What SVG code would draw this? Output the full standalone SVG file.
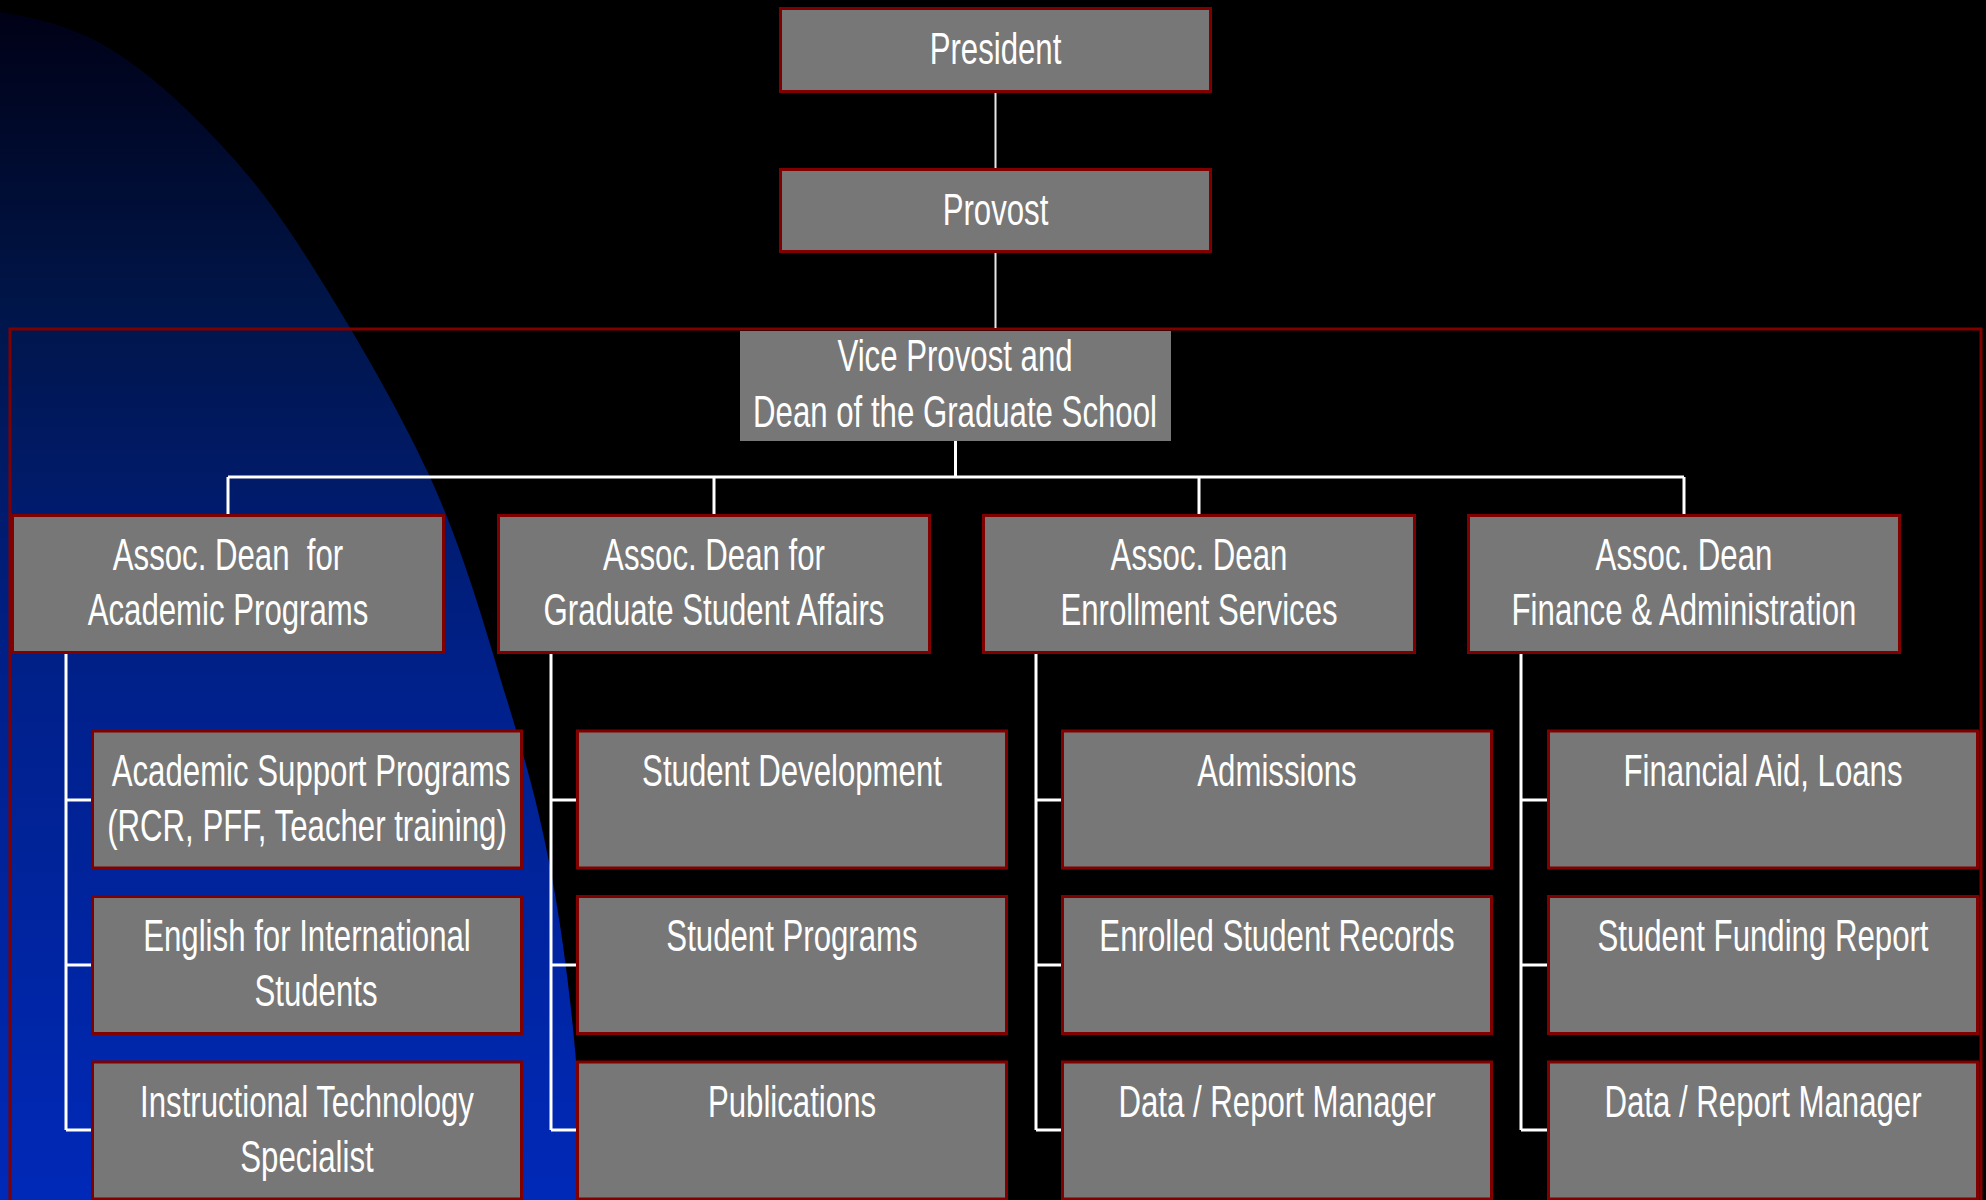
<svg xmlns="http://www.w3.org/2000/svg" width="1986" height="1200" viewBox="0 0 1986 1200">
  <defs>
    <linearGradient id="bg" gradientUnits="userSpaceOnUse" x1="0" y1="0" x2="0" y2="1200">
      <stop offset="0" stop-color="#000014"/>
      <stop offset="0.25" stop-color="#001548"/>
      <stop offset="0.55" stop-color="#002088"/>
      <stop offset="1" stop-color="#0029b8"/>
    </linearGradient>
    <style>
      .box { fill: #777777; stroke: #800000; stroke-width: 3; }
      .vp { fill: #777777; }
      .frame { fill: none; stroke: #800000; stroke-width: 3; }
      .t { font-family: "Liberation Sans", Arial, sans-serif; font-size: 45px; fill: #ffffff; text-anchor: middle; }
      .ln { stroke: #ffffff; stroke-width: 3; fill: none; }
      .thin { stroke: #e8e8e8; stroke-width: 2; fill: none; }
    </style>
  </defs>

  <rect x="0" y="0" width="1986" height="1200" fill="#000000"/>
  <path d="M0,12 C33,18 66.7,24.5 100,43 C133.3,61.5 166.7,89 200,123 C233.3,157 261.7,188 300,247 C338.3,306 395.5,401.5 430,477 C464.5,552.5 486.8,634.2 507,700 C527.2,765.8 539.5,811.8 551,872 C562.5,932.2 571.5,1006.3 576,1061 C578,1110 578,1160 578,1200 L0,1200 Z" fill="url(#bg)"/>

  <rect id="frame" class="frame" x="10" y="329" width="1971" height="1000"/>

  <g id="connectors">
    <line class="thin" x1="995.5" y1="93" x2="995.5" y2="168"/>
    <line class="thin" x1="995.5" y1="253" x2="995.5" y2="328"/>
    <line class="ln" x1="955.5" y1="441" x2="955.5" y2="477"/>
    <line class="ln" x1="228" y1="477" x2="1684" y2="477"/>
    <line class="ln" x1="228" y1="477" x2="228" y2="515"/>
    <line class="ln" x1="714" y1="477" x2="714" y2="515"/>
    <line class="ln" x1="1199" y1="477" x2="1199" y2="515"/>
    <line class="ln" x1="1684" y1="477" x2="1684" y2="515"/>
    <path class="ln" d="M66,654 V1130 M66,800 H92 M66,965 H92 M66,1130 H92"/>
    <path class="ln" d="M551,654 V1130 M551,800 H577 M551,965 H577 M551,1130 H577"/>
    <path class="ln" d="M1036,654 V1130 M1036,800 H1062 M1036,965 H1062 M1036,1130 H1062"/>
    <path class="ln" d="M1521,654 V1130 M1521,800 H1548 M1521,965 H1548 M1521,1130 H1548"/>
  </g>

  <g id="president">
    <rect class="box" x="780.5" y="8.5" width="430" height="83"/>
    <text class="t" transform="translate(995.5,64) scale(0.693,1)">President</text>
  </g>
  <g id="provost">
    <rect class="box" x="780.5" y="169.5" width="430" height="82"/>
    <text class="t" transform="translate(995.5,225) scale(0.693,1)">Provost</text>
  </g>
  <g id="vice-provost">
    <rect class="vp" x="740" y="331" width="431" height="110"/>
    <text class="t" transform="translate(955,371) scale(0.693,1)">Vice Provost and</text>
    <text class="t" transform="translate(955,427) scale(0.693,1)">Dean of the Graduate School</text>
  </g>

  <g id="assoc-academic">
    <rect class="box" x="12.5" y="515.5" width="431" height="137"/>
    <text class="t" transform="translate(228,570) scale(0.693,1)" xml:space="preserve">Assoc. Dean  for</text>
    <text class="t" transform="translate(228,625) scale(0.693,1)">Academic Programs</text>
  </g>
  <g id="assoc-student-affairs">
    <rect class="box" x="498.5" y="515.5" width="431" height="137"/>
    <text class="t" transform="translate(714,570) scale(0.693,1)">Assoc. Dean for</text>
    <text class="t" transform="translate(714,625) scale(0.693,1)">Graduate Student Affairs</text>
  </g>
  <g id="assoc-enrollment">
    <rect class="box" x="983.5" y="515.5" width="431" height="137"/>
    <text class="t" transform="translate(1199,570) scale(0.693,1)">Assoc. Dean</text>
    <text class="t" transform="translate(1199,625) scale(0.693,1)">Enrollment Services</text>
  </g>
  <g id="assoc-finance">
    <rect class="box" x="1468.5" y="515.5" width="431" height="137"/>
    <text class="t" transform="translate(1684,570) scale(0.693,1)">Assoc. Dean</text>
    <text class="t" transform="translate(1684,625) scale(0.693,1)">Finance &amp; Administration</text>
  </g>

  <g id="academic-support">
    <rect class="box" x="92.5" y="731" width="429" height="137"/>
    <text class="t" transform="translate(311,786) scale(0.693,1)">Academic Support Programs</text>
    <text class="t" transform="translate(307,841) scale(0.693,1)">(RCR, PFF, Teacher training)</text>
  </g>
  <g id="english-intl">
    <rect class="box" x="92.5" y="896.5" width="429" height="137"/>
    <text class="t" transform="translate(307,951) scale(0.693,1)">English for International</text>
    <text class="t" transform="translate(316,1006) scale(0.693,1)">Students</text>
  </g>
  <g id="instr-tech">
    <rect class="box" x="92.5" y="1062" width="429" height="137"/>
    <text class="t" transform="translate(307,1117) scale(0.693,1)">Instructional Technology</text>
    <text class="t" transform="translate(307,1172) scale(0.693,1)">Specialist</text>
  </g>

  <g id="student-development">
    <rect class="box" x="577.5" y="731" width="429" height="137"/>
    <text class="t" transform="translate(792,786) scale(0.693,1)">Student Development</text>
  </g>
  <g id="student-programs">
    <rect class="box" x="577.5" y="896.5" width="429" height="137"/>
    <text class="t" transform="translate(792,951) scale(0.693,1)">Student Programs</text>
  </g>
  <g id="publications">
    <rect class="box" x="577.5" y="1062" width="429" height="137"/>
    <text class="t" transform="translate(792,1117) scale(0.693,1)">Publications</text>
  </g>

  <g id="admissions">
    <rect class="box" x="1062.5" y="731" width="429" height="137"/>
    <text class="t" transform="translate(1277,786) scale(0.693,1)">Admissions</text>
  </g>
  <g id="enrolled-records">
    <rect class="box" x="1062.5" y="896.5" width="429" height="137"/>
    <text class="t" transform="translate(1277,951) scale(0.693,1)">Enrolled Student Records</text>
  </g>
  <g id="data-report-enrollment">
    <rect class="box" x="1062.5" y="1062" width="429" height="137"/>
    <text class="t" transform="translate(1277,1117) scale(0.693,1)">Data / Report Manager</text>
  </g>

  <g id="financial-aid">
    <rect class="box" x="1548.5" y="731" width="429" height="137"/>
    <text class="t" transform="translate(1763,786) scale(0.693,1)">Financial Aid, Loans</text>
  </g>
  <g id="funding-report">
    <rect class="box" x="1548.5" y="896.5" width="429" height="137"/>
    <text class="t" transform="translate(1763,951) scale(0.693,1)">Student Funding Report</text>
  </g>
  <g id="data-report-finance">
    <rect class="box" x="1548.5" y="1062" width="429" height="137"/>
    <text class="t" transform="translate(1763,1117) scale(0.693,1)">Data / Report Manager</text>
  </g>
</svg>
